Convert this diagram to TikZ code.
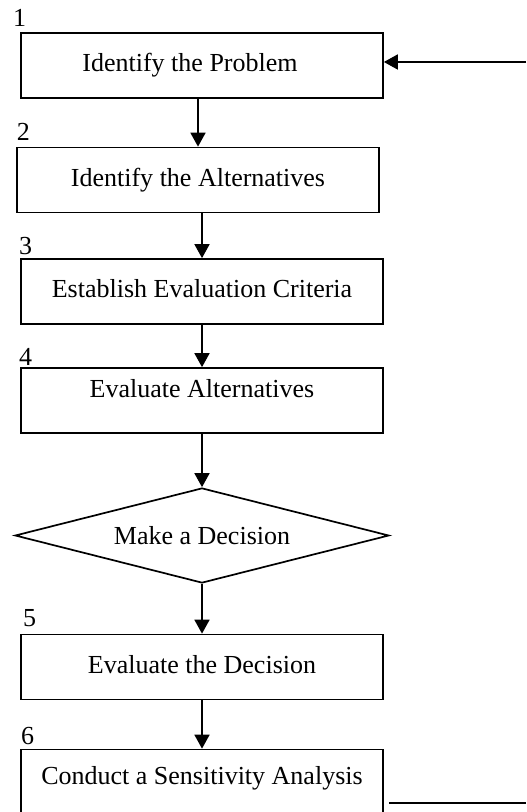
\documentclass[tikz,border=0pt]{standalone}
\usepackage{fontspec}
\setmainfont{Liberation Serif}
\usetikzlibrary{positioning,shapes.geometric,arrows.meta}

\begin{document}
\begin{tikzpicture}[node distance=56pt,on grid,font=\fontsize{13}{15.6}\selectfont,line width=0.85pt,>={Triangle[length=7pt,width=7.5pt]},
	stepbox/.style={draw,rectangle,minimum width=181pt,minimum height=32.5pt,text height=9.5pt,text depth=3pt,inner sep=0pt},
	decision/.style={draw,diamond,shape aspect=3.9,minimum width=187pt,minimum height=47.5pt,inner sep=0pt},
	num/.style={anchor=south west,inner sep=0pt}]
	\useasboundingbox (0,0) rectangle (263pt,-406pt);
	\node[stepbox,label={[num,xshift=-4pt,yshift=2.5pt]north west:1}] (s1) at (101pt,-32.75pt) {Identify the Problem\hspace{12pt}\mbox{}};
	\node[stepbox,label={[num,yshift=2.5pt]north west:2}] (s2) [below=57.25pt of s1,xshift=-2pt] {Identify the Alternatives};
	\node[stepbox,label={[num,xshift=-1pt,yshift=1.5pt]north west:3}] (s3) [below=55.75pt of s2,xshift=2pt] {Establish Evaluation Criteria};
	\node[stepbox,text depth=13pt,label={[num,xshift=-1pt,yshift=0.5pt]north west:4}] (s4) [below=54.5pt of s3] {Evaluate Alternatives};
	\node[decision] (dec) [below=67.5pt of s4] {Make a Decision};
	\node[stepbox,label={[num,xshift=1pt,yshift=3pt]north west:5}] (s5) [below=65.75pt of dec] {Evaluate the Decision};
	\node[stepbox,text depth=7pt,label={[num,yshift=1.5pt]north west:6}] (s6) [below=57.5pt of s5] {Conduct a Sensitivity Analysis};
	\coordinate (topin) at (263pt,-31pt);
	\coordinate (botout) at (263pt,-401.5pt);
	\path[->]
	(s1.south -| s2.north) edge (s2.north)
	(s3.north |- s2.south) edge (s3.north)
	(s3) edge (s4)
	(s4) edge (dec)
	(dec) edge (s5)
	(s5) edge (s6);
	% loop back to the first step
	\draw[->] (topin) -- (topin -| s1.east);
	\draw[shorten <=2.5pt] (botout -| s6.east) -- (botout);
\end{tikzpicture}
\end{document}
